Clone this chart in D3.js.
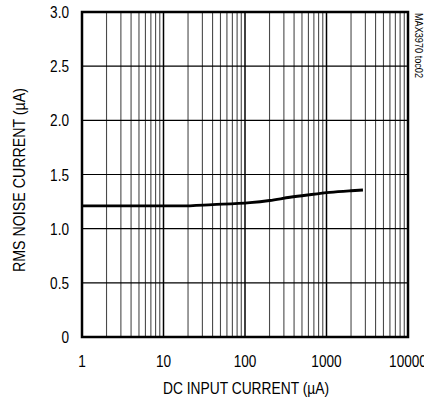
<!DOCTYPE html>
<html>
<head>
<meta charset="utf-8">
<script src="https://cdn.jsdelivr.net/npm/d3@7"></script>
<style>
  body { margin: 0; background: #fff; }
  text { font-family: "Liberation Sans", Arial, sans-serif; fill: #000; }
</style>
</head>
<body>
<div id="chart"></div>
<script>
// curve
var current = [1, 16, 40, 115, 200, 357, 600, 1100, 2000, 2800];
var noise = [1.21, 1.21, 1.222, 1.24, 1.26, 1.29, 1.312, 1.335, 1.35, 1.357];
var xTicks = [1, 10, 100, 1000, 10000];
var xTickLabels = ["1", "10", "100", "1000", "10000"];
var yTicks = [0, 0.5, 1.0, 1.5, 2.0, 2.5, 3.0];
var yTickLabels = ["0", "0.5", "1.0", "1.5", "2.0", "2.5", "3.0"];

var width = 424, height = 401;
var mLeft = 82, mRight = 408, mTop = 12, mBottom = 337;

var svg = d3.select("#chart").append("svg")
  .attr("width", width)
  .attr("height", height);

var x = d3.scaleLog().domain([1, 10000]).range([mLeft, mRight]);
var y = d3.scaleLinear().domain([0, 3]).range([mBottom, mTop]);

// minor vertical grid
var minor = [];
for (var d = 1; d < 10000; d *= 10) {
  for (var m = 2; m <= 9; m++) minor.push(d * m);
}
svg.append("g").selectAll("line")
  .data(minor)
  .enter().append("line")
  .attr("x1", function(d){ return x(d); })
  .attr("x2", function(d){ return x(d); })
  .attr("y1", mTop).attr("y2", mBottom)
  .attr("stroke", "#4a4a4a").attr("stroke-width", 1.1);

// decade lines
svg.append("g").selectAll("line")
  .data(xTicks)
  .enter().append("line")
  .attr("x1", function(d){ return x(d); })
  .attr("x2", function(d){ return x(d); })
  .attr("y1", mTop).attr("y2", mBottom)
  .attr("stroke", "#000").attr("stroke-width", 1.5);

// horizontal grid
svg.append("g").selectAll("line")
  .data(yTicks)
  .enter().append("line")
  .attr("x1", mLeft).attr("x2", mRight)
  .attr("y1", function(d){ return y(d); })
  .attr("y2", function(d){ return y(d); })
  .attr("stroke", "#000").attr("stroke-width", 1.2);

// frame
svg.append("rect")
  .attr("x", mLeft).attr("y", mTop)
  .attr("width", mRight - mLeft).attr("height", mBottom - mTop)
  .attr("fill", "none").attr("stroke", "#000").attr("stroke-width", 2.5);

// curve
var line = d3.line()
  .x(function(d, i){ return x(current[i]); })
  .y(function(d, i){ return y(noise[i]); })
  .curve(d3.curveMonotoneX);
svg.append("path")
  .datum(current)
  .attr("d", line)
  .attr("fill", "none")
  .attr("stroke", "#000")
  .attr("stroke-width", 2.8);

// condensed look: squeeze glyphs horizontally
function narrow(sel, k) {
  sel.each(function(){
    var w = this.getComputedTextLength();
    d3.select(this)
      .attr("textLength", w * k)
      .attr("lengthAdjust", "spacingAndGlyphs");
  });
}

// tick labels
var yl = svg.append("g").selectAll("text")
  .data(yTicks)
  .enter().append("text")
  .attr("x", 69)
  .attr("y", function(d){ return y(d) + 6; })
  .attr("text-anchor", "end")
  .attr("font-size", 16)
  .text(function(d, i){ return yTickLabels[i]; });
narrow(yl, 0.85);

var xl = svg.append("g").selectAll("text")
  .data(xTicks)
  .enter().append("text")
  .attr("x", function(d){ return x(d); })
  .attr("y", 367)
  .attr("text-anchor", "middle")
  .attr("font-size", 16)
  .text(function(d, i){ return xTickLabels[i]; });
narrow(xl, 0.85);

// axis titles
svg.append("text")
  .attr("x", 246)
  .attr("y", 394)
  .attr("text-anchor", "middle")
  .attr("font-size", 17)
  .attr("textLength", 166)
  .attr("lengthAdjust", "spacingAndGlyphs")
  .text("DC INPUT CURRENT (\u00b5A)");

svg.append("text")
  .attr("transform", "translate(25,180) rotate(-90)")
  .attr("text-anchor", "middle")
  .attr("font-size", 17)
  .attr("textLength", 184)
  .attr("lengthAdjust", "spacingAndGlyphs")
  .text("RMS NOISE CURRENT (\u00b5A)");

svg.append("text")
  .attr("transform", "translate(415,13) rotate(90)")
  .attr("text-anchor", "start")
  .attr("font-size", 10)
  .attr("textLength", 65)
  .attr("lengthAdjust", "spacingAndGlyphs")
  .text("MAX3970 toc02");
</script>
</body>
</html>
